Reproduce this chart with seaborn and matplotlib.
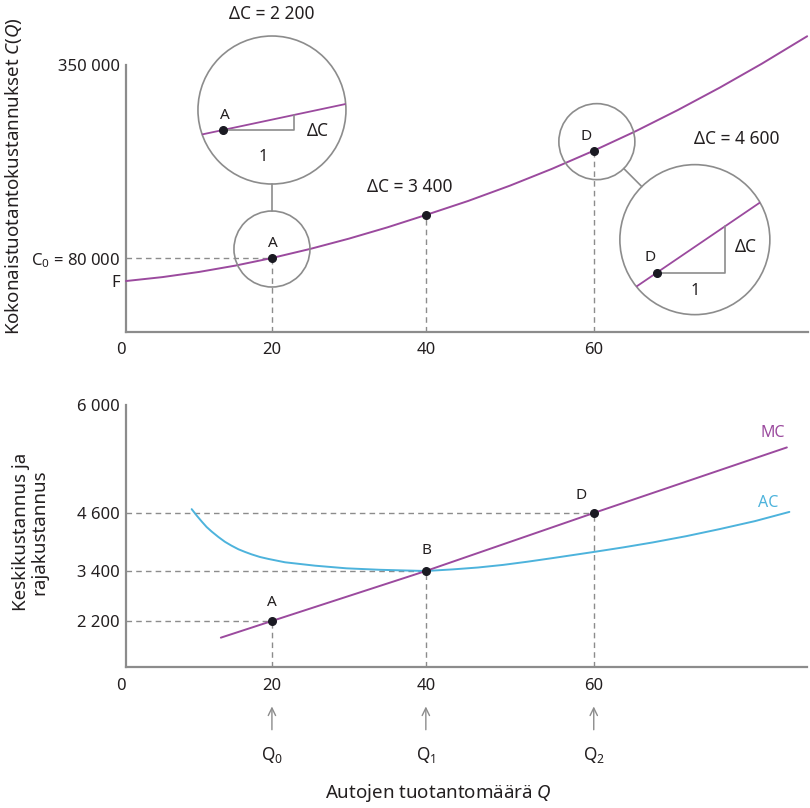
import numpy as np
import matplotlib
matplotlib.use('Agg')
import matplotlib.pyplot as plt
import matplotlib.transforms as mtransforms
from matplotlib.patches import Circle
import seaborn as sns

# total cost C(Q)
q_total = [0, 5, 10, 15, 20, 25, 30, 35, 40, 45, 50, 55, 60, 65, 70, 75, 80, 85.4]
c_total = [47800, 53300, 60500, 69400, 80000, 92800, 107100, 122900, 140200,
           159700, 181200, 204700, 230200, 257500, 287000, 318400, 351800, 390200]

# marked points on C(Q)
q_marks = [20, 40, 60]
c_marks = [80000, 140200, 230200]

# marginal cost and average cost (lower panel)
q_mc = [13, 20, 40, 60, 83]
mc = [1800, 2200, 3400, 4600, 5450]
q_ac = [9.0, 9.7, 10.4, 11.05, 11.75, 12.65, 13.55, 14.45, 15.4, 16.3, 17.2, 18.35,
        19.5, 21.7, 25.6, 29.7, 34, 37, 40, 43.2, 46.2, 49.2, 52.1, 55.1, 59.9,
        63.5, 67, 71, 75, 79.2, 83.3]
ac = [4650, 4545, 4420, 4310, 4215, 4105, 4005, 3925, 3850, 3795, 3745, 3690,
      3650, 3580, 3510, 3455, 3425, 3412, 3400, 3433, 3472, 3526, 3592, 3667, 3791,
      3888, 3990, 4120, 4267, 4432, 4614]
mc_marks = [2200, 3400, 4600]
names_bottom = ['A', 'B', 'D']

x_ticks = [0, 20, 40, 60]
top_ticks = [48000, 80000, 350000]
top_ticklabels = ['F', 'C$_0$ = 80 000', '350 000']
bottom_ticks = [2200, 3400, 4600, 6000]
bottom_ticklabels = ['2 200', '3 400', '4 600', '6 000']
q_names = ['Q$_0$', 'Q$_1$', 'Q$_2$']
delta_labels = ['ΔC = 2 200', 'ΔC = 3 400', 'ΔC = 4 600']

PURPLE = '#9b4a9e'
BLUE = '#4db3dc'
GRAY = '#8c8c8c'
TEXT = '#231f20'
DOT = '#1a1a22'

sns.set_theme(style='white')
plt.rcParams['font.family'] = ['Noto Sans', 'DejaVu Sans']
plt.rcParams['mathtext.fontset'] = 'custom'
plt.rcParams['mathtext.rm'] = 'Noto Sans'
plt.rcParams['mathtext.it'] = 'Noto Sans:italic'

# the drawing is not to scale: tick spacing is uneven, so use piecewise scales
QK = [0, 20, 40, 60, 100]
PK = [0, 146, 300, 468, 804]
VK = [0, 2200, 3400, 4600, 6000, 8000]
HK = [-45.7, 46, 96, 154, 262, 416]


def fx(q):
    return np.interp(q, QK, PK)


def ifx(p):
    return np.interp(p, PK, QK)


def fy(v):
    return np.interp(v, VK, HK)


def ify(h):
    return np.interp(h, HK, VK)


fig = plt.figure(figsize=(8.1, 8.08), dpi=100)
ax1 = fig.add_axes([126 / 810, 1 - 332 / 808, 682 / 810, 267 / 808])
ax2 = fig.add_axes([126 / 810, 1 - 667 / 808, 681 / 810, 262 / 808])
shift_left = mtransforms.ScaledTranslation(-4 / 100, 0, fig.dpi_scale_trans)

for ax in (ax1, ax2):
    ax.set_xscale('function', functions=(fx, ifx))
    for s in ('top', 'right'):
        ax.spines[s].set_visible(False)
    for s in ('left', 'bottom'):
        ax.spines[s].set_color(GRAY)
        ax.spines[s].set_linewidth(1.6)
    ax.tick_params(length=0, labelsize=12, colors=TEXT)
    ax.tick_params(axis='y', pad=4.5)
    ax.set_xticks(x_ticks)
    ax.set_xticklabels([str(t) for t in x_ticks])
    zero = ax.get_xticklabels()[0]
    zero.set_ha('right')
    zero.set_transform(zero.get_transform() + shift_left)
    ax.grid(False)

ax2.set_yscale('function', functions=(fy, ify))

# upper panel
ax1.set_xlim(0, 85.5)
ax1.set_ylim(-23500, 350000)
ax1.tick_params(axis='x', pad=7)
sns.lineplot(x=q_total, y=c_total, ax=ax1, color=PURPLE, lw=1.4, clip_on=False, zorder=3)
ax1.plot([0, q_marks[0]], [c_marks[0], c_marks[0]], color=GRAY, lw=1, dashes=(4, 3))
for q, c in zip(q_marks, c_marks):
    ax1.plot([q, q], [-23500, c], color=GRAY, lw=1, dashes=(4, 3))
ax1.scatter(q_marks, c_marks, s=30, color=DOT, zorder=5)
ax1.set_yticks(top_ticks)
ax1.set_yticklabels(top_ticklabels)

# lower panel
ax2.set_xlim(0, 85.4)
ax2.set_ylim(1096, 6000)
ax2.tick_params(axis='x', pad=8)
sns.lineplot(x=q_ac, y=ac, ax=ax2, color=BLUE, lw=1.4, zorder=3)
sns.lineplot(x=q_mc, y=mc, ax=ax2, color=PURPLE, lw=1.4, zorder=4)
for q, m in zip(q_marks, mc_marks):
    ax2.plot([0, q], [m, m], color=GRAY, lw=1, dashes=(4, 3))
    ax2.plot([q, q], [1096, m], color=GRAY, lw=1, dashes=(4, 3))
ax2.scatter(q_marks, mc_marks, s=30, color=DOT, zorder=5)
ax2.set_yticks(bottom_ticks)
ax2.set_yticklabels(bottom_ticklabels)

for q, m, n, off in zip(q_marks, mc_marks, names_bottom, [(0, 18), (1, 20), (-13, 17)]):
    ax2.annotate(n, (q, m), xytext=off, textcoords='offset pixels',
                 ha='center', va='center', fontsize=11, color=TEXT)
ax2.annotate('MC', (q_mc[-1], mc[-1]), xytext=(-14, 14), textcoords='offset pixels',
             ha='center', va='center', fontsize=11.5, color=PURPLE)
ax2.annotate('AC', (q_ac[-1], ac[-1]), xytext=(-21, 9), textcoords='offset pixels',
             ha='center', va='center', fontsize=11.5, color=BLUE)

for q, n in zip(q_marks, q_names):
    ax2.annotate('', xy=(q, -0.14), xytext=(q, -0.25), xycoords=('data', 'axes fraction'),
                 textcoords=('data', 'axes fraction'),
                 arrowprops=dict(arrowstyle='->,head_length=0.45,head_width=0.22',
                                 color=GRAY, lw=1), annotation_clip=False)
    ax2.annotate(n, (q, -0.336), xycoords=('data', 'axes fraction'),
                 ha='center', va='center', fontsize=12.5, color=TEXT, annotation_clip=False)

fig.text(14 / 810, 1 - 176 / 808, 'Kokonaistuotantokustannukset $C(Q)$', rotation=90,
         ha='center', va='center', fontsize=13.5, color=TEXT)
fig.text(30 / 810, 1 - 532 / 808, 'Keskikustannus ja\nrajakustannus', rotation=90,
         ha='center', va='center', fontsize=13.5, color=TEXT, linespacing=1.0)
fig.text(438 / 810, 1 - 793 / 808, 'Autojen tuotantomäärä $Q$',
         ha='center', va='center', fontsize=13.5, color=TEXT)

# magnifier circles drawn over everything in pixel coordinates
ov = fig.add_axes([0, 0, 1, 1], zorder=5)
ov.set_xlim(0, 810)
ov.set_ylim(808, 0)
ov.axis('off')
ov.patch.set_alpha(0)


def px(ax, x, y):
    X, Y = ax.transData.transform((x, y))
    return X, 808 - Y


def magnifier(pt, small_shift, big_shift, r_big, dot_shift, slope, run,
              name, name_shift, small_name_shift, dc_shift, one_shift, title, title_shift):
    sx, sy = pt[0] + small_shift[0], pt[1] + small_shift[1]
    bx, by = sx + big_shift[0], sy + big_shift[1]
    small = Circle((sx, sy), 38, fill=False, ec=GRAY, lw=1.2)
    big = Circle((bx, by), r_big, fill=False, ec=GRAY, lw=1.2)
    ov.add_patch(small)
    ov.add_patch(big)
    d = np.hypot(*big_shift)
    ux, uy = big_shift[0] / d, big_shift[1] / d
    ov.plot([sx + 38 * ux, bx - r_big * ux], [sy + 38 * uy, by - r_big * uy], color=GRAY, lw=1.2)
    x0, y0 = bx + dot_shift[0], by + dot_shift[1]
    xs = np.array([x0 - 200, x0 + 200])
    ln, = ov.plot(xs, y0 - slope * (xs - x0), color=PURPLE, lw=1.3)
    ln.set_clip_path(big)
    ov.plot([x0, x0 + run, x0 + run], [y0, y0, y0 - slope * run], color=GRAY, lw=1.2)
    ov.plot(x0, y0, 'o', color=DOT, ms=5.5)
    kw = dict(ha='center', va='center', color=TEXT)
    ov.text(x0 + name_shift[0], y0 + name_shift[1], name, fontsize=11, **kw)
    ov.text(pt[0] + small_name_shift[0], pt[1] + small_name_shift[1], name, fontsize=11, **kw)
    ov.text(bx + dc_shift[0], by + dc_shift[1], 'ΔC', fontsize=12.5, **kw)
    ov.text(bx + one_shift[0], by + one_shift[1], '1', fontsize=11.5, **kw)
    ov.text(bx + title_shift[0], by + title_shift[1], title, fontsize=12.5, **kw)


pA = px(ax1, q_marks[0], c_marks[0])
pB = px(ax1, q_marks[1], c_marks[1])
pD = px(ax1, q_marks[2], c_marks[2])
magnifier(pA, (0, -9), (0, -139), 74, (-49, 20), 0.212, 71, 'A', (2, -15), (1, -15),
          (46, 21), (-9, 47), delta_labels[0], (0, -96))
magnifier(pD, (3, -9), (98, 98), 75, (-38, 33), 0.68, 68, 'D', (-7, -15), (-8, -14),
          (51, 7), (0, 51), delta_labels[2], (42, -101))
ov.text(pB[0] - 16, pB[1] - 28, delta_labels[1], ha='center', va='center', fontsize=12.5, color=TEXT)

fig.savefig('out.png', dpi=100)
